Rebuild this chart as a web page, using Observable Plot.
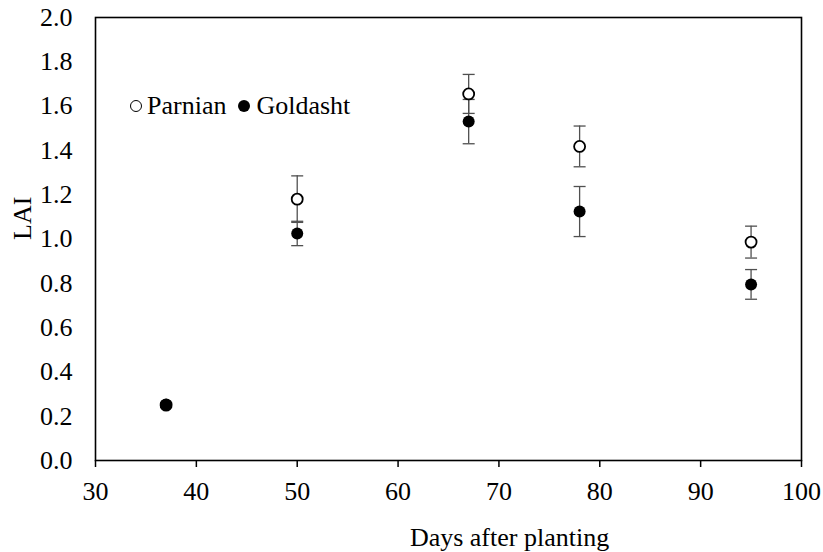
<!DOCTYPE html>
<html>
<head>
<meta charset="utf-8">
<script src="https://cdn.jsdelivr.net/npm/d3@7"></script>
<script src="https://cdn.jsdelivr.net/npm/@observablehq/plot@0.6"></script>
<style>
  body { margin: 0; background: #fff; }
  #wrap { position: relative; width: 823px; height: 552px; font-family: "Liberation Serif", "Times New Roman", serif; }
  #chart svg, #chart svg text { font-family: "Liberation Serif", "Times New Roman", serif !important; }
  #legend { position: absolute; left: 130px; top: 90px; height: 32px; font-size: 26px; line-height: 32px; display: flex; align-items: center; color: #000; }
  #legend .sym { display: inline-block; box-sizing: border-box; width: 12px; height: 12px; border-radius: 50%; margin-right: 5px; }
  #legend .open { border: 1.8px solid #000; background: #fff; }
  #legend .filled { background: #000; margin-left: 12px; margin-right: 6px; }
</style>
</head>
<body>
<div id="wrap">
  <div id="chart"></div>
  <div id="legend"><span class="sym open"></span><span>Parnian</span><span class="sym filled"></span><span>Goldasht</span></div>
</div>
<script>
const days = [37, 50, 67, 78, 95];
const parnian = [0.25, 1.18, 1.655, 1.418, 0.986];
const parnianErr = [0.01, 0.105, 0.088, 0.092, 0.072];
const goldasht = [0.253, 1.025, 1.53, 1.124, 0.795];
const goldashtErr = [0.01, 0.055, 0.10, 0.113, 0.067];
const xTicks = [30, 40, 50, 60, 70, 80, 90, 100];
const yTicks = [0, 0.2, 0.4, 0.6, 0.8, 1.0, 1.2, 1.4, 1.6, 1.8, 2.0];
const xTitle = ["Days after planting"];
const yTitle = ["LAI"];

const P = days.map((d, i) => ({x: d, y: parnian[i], lo: parnian[i] - parnianErr[i], hi: parnian[i] + parnianErr[i]}));
const G = days.map((d, i) => ({x: d, y: goldasht[i], lo: goldasht[i] - goldashtErr[i], hi: goldasht[i] + goldashtErr[i]}));

const capSymbol = {
  draw(ctx, size) {
    const r = Math.sqrt(size / Math.PI);
    ctx.moveTo(-r, 0);
    ctx.lineTo(r, 0);
  }
};

function errMarks(data) {
  return [
    Plot.ruleX(data, {x: "x", y1: "lo", y2: "hi", stroke: "#505050", strokeWidth: 1.3}),
    Plot.dot(data, {x: "x", y: "lo", symbol: capSymbol, r: 6, stroke: "#505050", strokeWidth: 1.3, fill: "none"}),
    Plot.dot(data, {x: "x", y: "hi", symbol: capSymbol, r: 6, stroke: "#505050", strokeWidth: 1.3, fill: "none"})
  ];
}

const chart = Plot.plot({
  width: 823,
  height: 552,
  marginLeft: 95,
  marginRight: 22,
  marginTop: 17,
  marginBottom: 92,
  style: {color: "#000", background: "#fff"},
  x: {domain: [30, 100]},
  y: {domain: [0, 2]},
  marks: [
    Plot.axisX({ticks: xTicks, tickSize: 7, tickPadding: 14, tickFormat: d3.format("d"), stroke: "#000", strokeWidth: 1.5, fontSize: 26, label: null}),
    Plot.axisY({ticks: yTicks, tickSize: 0, tickPadding: 23, tickFormat: d3.format(".1f"), fontSize: 26, label: null}),
    Plot.text(xTitle, {text: d => d, frameAnchor: "bottom", dx: 61, dy: 85, fontSize: 26, fill: "#000"}),
    Plot.text(yTitle, {text: d => d, frameAnchor: "left", dx: -73, dy: 1, rotate: -90, fontSize: 26, fill: "#000"}),
    Plot.frame({stroke: "#000", strokeWidth: 1.6}),
    ...errMarks(P),
    ...errMarks(G),
    Plot.dot(P, {x: "x", y: "y", r: 5.5, fill: "#fff", stroke: "#000", strokeWidth: 1.8}),
    Plot.dot(G, {x: "x", y: "y", r: 6, fill: "#000", stroke: "none"})
  ]
});
document.getElementById("chart").appendChild(chart);
</script>
</body>
</html>
